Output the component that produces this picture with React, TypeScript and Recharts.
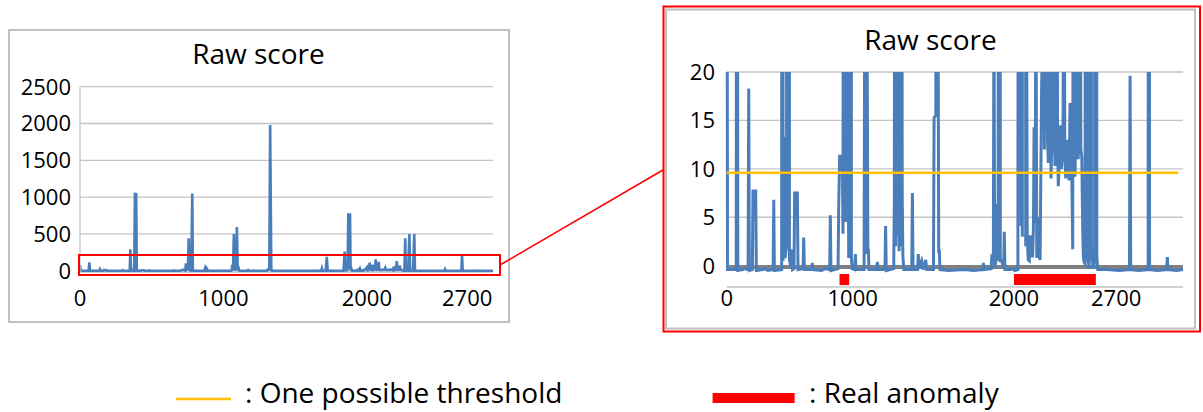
import React from 'react';
import {
  LineChart,
  Line,
  XAxis,
  YAxis,
  CartesianGrid,
  ReferenceLine,
  ReferenceArea,
} from 'recharts';

// [sample index, raw score]
const rawScore: [number, number][] = [
  [0, 77], [5, -0.4],
  [60, -0.4], [65, 114], [70, -0.5],
  [100, -0.4], [110, -0.3],
  [135, -0.4], [139, 18.3], [143, -0.5],
  [162, -0.4], [166, 7.7], [183, 7.7], [187, -0.5],
  [230, -0.4], [240, -0.3], [260, -0.5],
  [293, -0.4], [297, 6.8], [301, -0.5],
  [347, -0.4], [351, 290], [356, 0.5], [362, 13.3], [368, 0.8], [378, 2], [383, 1043], [392, 1040], [396, 0.6],
  [408, -0.3], [412, 1.7], [416, -0.4], [425, -0.3], [429, 7.5], [446, 7.5], [450, -0.4],
  [482, -0.3], [486, 2.9], [490, -0.4],
  [536, -0.4], [540, 0.3], [544, -0.4],
  [600, -0.5], [620, -0.3],
  [650, -0.4], [654, 5.2], [658, -0.5],
  [703, -0.3], [707, 6.2], [713, 11.3], [730, 11.3], [734, 3.3], [739, 100], [743, 5], [748, 30], [752, 4.5],
  [758, 440], [764, 25], [770, 0.8], [776, 60], [783, 1050], [787, 0.8], [792, -0.3],
  [808, -0.4], [812, 1.2], [816, -0.4],
  [867, -0.4], [873, 40], [880, 1.2], [884, 30], [888, 16.8], [891, 1.8], [894, 1.7], [898, -0.4],
  [947, -0.4], [951, 0.4], [955, -0.4],
  [999, -0.4], [1003, 4.1], [1007, -0.5],
  [1054, -0.3], [1058, 6.5], [1062, 80], [1067, 2], [1073, 499], [1078, 3], [1083, 120], [1088, 1.5],
  [1094, 594], [1100, 2], [1104, 60], [1108, 7], [1112, 1.0], [1118, -0.4],
  [1168, -0.4], [1172, 7.5], [1176, -0.4],
  [1205, -0.4], [1209, 1.2], [1213, -0.3], [1230, 0.5], [1240, -0.4], [1256, 0.6], [1262, -0.4],
  [1305, -0.4], [1309, 15.3], [1320, 15.5], [1326, 1981], [1334, 30], [1338, 1.5], [1342, 1.5], [1346, -0.4],
  [1400, -0.5], [1500, -0.4], [1560, -0.5],
  [1616, -0.4], [1620, 0.3], [1624, -0.4],
  [1669, -0.3], [1673, 0.8], [1683, 0.5], [1687, 30], [1691, -0.3], [1700, 0.6], [1708, 6.4], [1713, 0.5],
  [1721, 190], [1727, 0.5], [1736, 0.5], [1748, -0.3], [1752, 3.5], [1756, -0.4],
  [1790, -0.4], [1800, -0.3], [1820, -0.5],
  [1838, -0.4], [1845, 260], [1852, 20], [1858, 4.1], [1862, 30], [1866, 3], [1871, 780], [1878, 25],
  [1883, 780], [1887, 2], [1893, 25], [1897, 2.8], [1903, 0.6], [1910, 0.5], [1915, 3], [1921, 3],
  [1926, 1], [1931, 1], [1936, 4], [1940, 14.3], [1946, 4.4], [1952, 30], [1957, 0.8], [1962, 3],
  [1967, 5], [1973, 1], [1978, 0.6], [1983, 10], [1988, 18.7], [1994, 25], [1999, 40], [2005, 12],
  [2010, 80], [2015, 14], [2020, 110], [2025, 13], [2030, 10.6], [2036, 22], [2041, 80], [2047, 9],
  [2052, 13], [2057, 30], [2062, 155], [2067, 14], [2072, 10.3], [2078, 25], [2083, 120], [2088, 13],
  [2093, 8.2], [2100, 11], [2108, 14.5], [2113, 10], [2118, 11], [2123, 15], [2129, 40], [2134, 12],
  [2140, 9], [2146, 13], [2152, 12], [2157, 10], [2161, 8.8], [2167, 16.8], [2172, 12], [2178, 9.5],
  [2184, 1.7], [2188, 60], [2193, 14], [2198, 9.2], [2203, 13], [2209, 130], [2214, 15], [2219, 11],
  [2225, 25], [2230, 70], [2235, 12], [2241, 11.3], [2247, 4], [2251, 1], [2255, 0.4], [2262, 0.2],
  [2268, 440], [2272, 5], [2276, 1.2], [2282, 0.5], [2288, -0.3], [2297, 500], [2302, 2], [2308, 0.5],
  [2314, -0.3], [2322, 0.5], [2331, 500], [2336, 1], [2342, -0.4],
  [2400, -0.4], [2480, -0.5],
  [2542, -0.4], [2546, 19.6], [2550, -0.4],
  [2600, -0.5],
  [2660, -0.4], [2664, 214], [2669, -0.4],
  [2720, -0.5],
  [2777, -0.4], [2781, 0.9], [2785, -0.4],
  [2840, -0.5], [2880, -0.4],
];

const zeroBaseline: [number, number][] = [[0, -0.13], [2880, -0.13]];

const fullYTicks = [0, 500, 1000, 1500, 2000, 2500];
const zoomYTicks = [0, 5, 10, 15, 20];
const fullXTicks = [0, 1000, 2000, 2700];
// the zoomed chart's category labels sit at other sample positions
const zoomXTicks = [0, 795, 1813, 2458];
const xTickLabels = ['0', '1000', '2000', '2700'];

const threshold = 9.6;
const thresholdEnd = 2850;
const anomalyRanges: [number, number][] = [[712, 773], [1813, 2330]];

const scoreData = rawScore.map(([t, v]) => ({ t, v }));
const zeroData = zeroBaseline.map(([t, v]) => ({ t, v }));

const FONT = '"Open Sans", sans-serif';
const BLUE = '#4a7ebb';
const GRID = '#c4c4c4';
const tickStyle = { fontSize: 22, fill: '#000', fontFamily: FONT };

const App: React.FC = () => {
  return (
    <div
      style={{
        position: 'absolute',
        left: 0,
        top: 0,
        width: 1203,
        height: 412,
        background: '#fff',
        fontFamily: FONT,
        overflow: 'hidden',
      }}
    >
      {/* full-range chart */}
      <div style={{ position: 'absolute', left: 10, top: 31 }}>
        <LineChart
          width={497}
          height={290}
          data={scoreData}
          margin={{ top: 55.7, right: 14, left: 10, bottom: 8.8 }}
        >
          <CartesianGrid vertical={false} stroke={GRID} strokeWidth={1.3} />
          <XAxis
            dataKey="t"
            type="number"
            domain={[0, 2880]}
            ticks={fullXTicks}
            tickFormatter={(v: number) => xTickLabels[fullXTicks.indexOf(v)]}
            axisLine={false}
            tickLine={false}
            tickSize={0}
            tickMargin={18.3}
            height={40}
            tick={tickStyle}
            interval={0}
          />
          <YAxis
            type="number"
            domain={[-20, 2500]}
            ticks={fullYTicks}
            allowDataOverflow
            axisLine={{ stroke: GRID, strokeWidth: 1.3 }}
            tickLine={false}
            tickSize={0}
            tickMargin={9}
            width={60}
            tick={tickStyle}
            interval={0}
          />
          <Line
            dataKey="v"
            stroke={BLUE}
            strokeWidth={2.6}
            dot={false}
            activeDot={false}
            isAnimationActive={false}
            type="linear"
          />
        </LineChart>
      </div>

      {/* zoomed chart, clipped at 20 */}
      <div style={{ position: 'absolute', left: 667, top: 10 }}>
        <LineChart
          width={528}
          height={318}
          data={scoreData}
          margin={{ top: 62, right: 12, left: 9.7, bottom: 11 }}
        >
          <CartesianGrid vertical={false} stroke={GRID} strokeWidth={1.3} />
          <XAxis
            dataKey="t"
            type="number"
            domain={[0, 2880]}
            ticks={zoomXTicks}
            tickFormatter={(v: number) => xTickLabels[zoomXTicks.indexOf(v)]}
            axisLine={false}
            tickLine={false}
            tickSize={0}
            tickMargin={3.3}
            height={30}
            tick={tickStyle}
            interval={0}
          />
          <YAxis
            type="number"
            domain={[-2.2, 20]}
            ticks={zoomYTicks}
            allowDataOverflow
            axisLine={false}
            tickLine={false}
            tickSize={0}
            tickMargin={11.7}
            width={50}
            tick={tickStyle}
            interval={0}
          />
          {anomalyRanges.map(([a, b], i) => (
            <ReferenceArea
              key={`anom-${i}`}
              x1={a}
              x2={b}
              y1={-2.0}
              y2={-0.86}
              fill="#ff0000"
              fillOpacity={1}
              stroke="none"
            />
          ))}
          <Line
            data={zeroData}
            dataKey="v"
            stroke="#808080"
            strokeWidth={4}
            dot={false}
            activeDot={false}
            isAnimationActive={false}
            type="linear"
          />
          <Line
            dataKey="v"
            stroke={BLUE}
            strokeWidth={3}
            dot={false}
            activeDot={false}
            isAnimationActive={false}
            type="linear"
          />
          <ReferenceLine
            segment={[
              { x: 0, y: threshold },
              { x: thresholdEnd, y: threshold },
            ]}
            stroke="#ffc000"
            strokeWidth={2.5}
          />
        </LineChart>
      </div>

      {/* frames, titles, zoom marker and legend */}
      <svg
        width={1203}
        height={412}
        style={{ position: 'absolute', left: 0, top: 0, pointerEvents: 'none' }}
      >
        <rect x={9} y={30} width={500} height={292} fill="none" stroke="#c0c0c0" strokeWidth={2} />
        <text x={258.5} y={64.3} textAnchor="middle" fontSize={28} fontFamily={FONT} fill="#000">
          Raw score
        </text>
        <rect x={79} y={255} width={421} height={20} fill="none" stroke="#ff0000" strokeWidth={2} />
        <line x1={500} y1={265} x2={663} y2={170} stroke="#ff0000" strokeWidth={1.5} />

        <rect x={663.5} y={6.5} width={536.5} height={325} fill="none" stroke="#ff0000" strokeWidth={2} />
        <rect x={666} y={9.5} width={529} height={319} fill="none" stroke="#c0c0c0" strokeWidth={2} />
        <text x={930.5} y={50} textAnchor="middle" fontSize={28} fontFamily={FONT} fill="#000">
          Raw score
        </text>

        <line x1={176} y1={399} x2={231} y2={399} stroke="#ffc000" strokeWidth={2.5} />
        <text x={245} y={403} fontSize={28} fontFamily={FONT} fill="#000">
          : One possible threshold
        </text>
        <rect x={712.6} y={393} width={82} height={10} fill="#ff0000" />
        <text x={809} y={403} fontSize={28} fontFamily={FONT} fill="#000">
          : Real anomaly
        </text>
      </svg>
    </div>
  );
};

export default App;
